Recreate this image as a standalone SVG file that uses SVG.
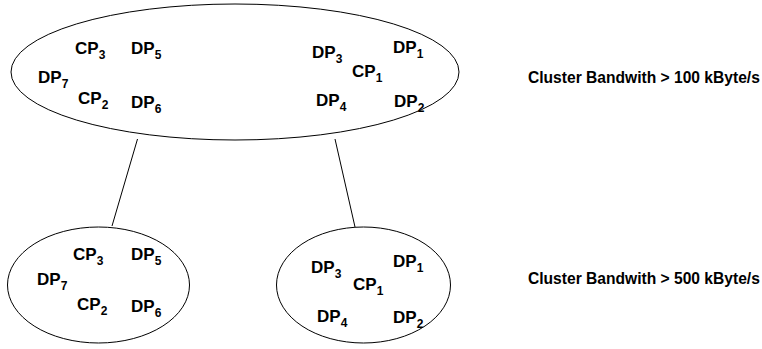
<svg xmlns="http://www.w3.org/2000/svg" width="762" height="349" viewBox="0 0 762 349">
<style>
.e{fill:none;stroke:#000;stroke-width:1}
.t{font-family:"Liberation Sans",Arial,sans-serif;font-weight:bold;font-size:17px;fill:#000}
.s{font-size:12px}
.c{font-family:"Liberation Sans",Arial,sans-serif;font-weight:bold;font-size:15.6px;fill:#000}
</style>
<rect width="762" height="349" fill="#fff"/>
<g id="connectors">
<line class="e" x1="137.5" y1="139" x2="112" y2="226"/>
<line class="e" x1="335" y1="139" x2="355" y2="227"/>
</g>
<g id="top">
<ellipse class="e" cx="235" cy="72" rx="224" ry="68"/>
<text class="t" x="75" y="54">CP<tspan class="s" dy="5">3</tspan></text>
<text class="t" x="131" y="54">DP<tspan class="s" dy="5">5</tspan></text>
<text class="t" x="38" y="83">DP<tspan class="s" dy="5">7</tspan></text>
<text class="t" x="78" y="104">CP<tspan class="s" dy="5">2</tspan></text>
<text class="t" x="131" y="108">DP<tspan class="s" dy="5">6</tspan></text>
<text class="t" x="312" y="58">DP<tspan class="s" dy="5">3</tspan></text>
<text class="t" x="393" y="53">DP<tspan class="s" dy="5">1</tspan></text>
<text class="t" x="352" y="77">CP<tspan class="s" dy="5">1</tspan></text>
<text class="t" x="316" y="106">DP<tspan class="s" dy="5">4</tspan></text>
<text class="t" x="394" y="107">DP<tspan class="s" dy="5">2</tspan></text>
</g>
<g id="bottom-left">
<ellipse class="e" cx="98.5" cy="285" rx="91" ry="58"/>
<text class="t" x="73" y="260">CP<tspan class="s" dy="5">3</tspan></text>
<text class="t" x="131" y="260">DP<tspan class="s" dy="5">5</tspan></text>
<text class="t" x="37" y="285">DP<tspan class="s" dy="5">7</tspan></text>
<text class="t" x="77" y="310">CP<tspan class="s" dy="5">2</tspan></text>
<text class="t" x="131" y="312">DP<tspan class="s" dy="5">6</tspan></text>
</g>
<g id="bottom-right">
<ellipse class="e" cx="363.5" cy="285" rx="87" ry="58"/>
<text class="t" x="311" y="273">DP<tspan class="s" dy="5">3</tspan></text>
<text class="t" x="393" y="267">DP<tspan class="s" dy="5">1</tspan></text>
<text class="t" x="353" y="290">CP<tspan class="s" dy="5">1</tspan></text>
<text class="t" x="317" y="322">DP<tspan class="s" dy="5">4</tspan></text>
<text class="t" x="393" y="323">DP<tspan class="s" dy="5">2</tspan></text>
</g>
<g id="labels">
<text class="c" x="528" y="83">Cluster Bandwith &gt; 100 kByte/s</text>
<text class="c" x="528" y="284">Cluster Bandwith &gt; 500 kByte/s</text>
</g>
</svg>
